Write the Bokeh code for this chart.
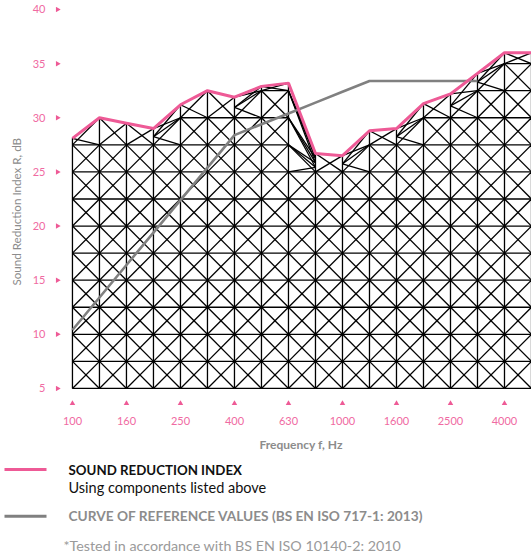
import math
import numpy as np
from bokeh.plotting import figure
from bokeh.models import Range1d, FixedTicker, Title
from bokeh.core.properties import value
from bokeh.embed import file_html
from bokeh.resources import INLINE

# ---------------- data ----------------
bands = ["100", "125", "160", "200", "250", "315", "400", "500", "630", "800",
         "1000", "1250", "1600", "2000", "2500", "3150", "4000", "5000"]
sound_reduction = [28.1, 30.0, 29.5, 29.0, 31.2, 32.5, 31.9, 32.9, 33.2, 26.7,
                   26.5, 28.8, 29.0, 31.3, 32.2, 34.1, 36.0, 36.0]
reference_bands = ["100", "125", "160", "200", "250", "315", "400", "500", "630", "800",
                   "1000", "1250", "1600", "2000", "2500", "3150"]
reference_curve = [10.4, 13.4, 16.4, 19.4, 22.4, 25.4, 28.4, 29.4, 30.4, 31.4,
                   32.4, 33.4, 33.4, 33.4, 33.4, 33.4]
y_ticks = [5, 10, 15, 20, 25, 30, 35, 40]
x_tick_labels = ["100", "160", "250", "400", "630", "1000", "1600", "2500", "4000"]
mesh_floor = 5.0
mesh_step = 2.5

# ---------------- style ----------------
FONT = "Lato"
PINK = "#EE5A96"
PINK_TXT = "#F06AA2"
GREY = "#808080"
TITLE_GREY = "#8C8C8C"

bx = list(range(len(bands)))
rx = [bands.index(b) for b in reference_bands]

# ---------------- mesh (derived from the data) ----------------
mx, my = [], []


def seg(x0, y0, x1, y1):
    mx.append([x0, x1])
    my.append([y0, y1])


n = len(bands)
for b in range(n):
    seg(b, mesh_floor, b, sound_reduction[b])
for i in range(n - 1):
    L, R = sound_reduction[i], sound_reduction[i + 1]
    g = mesh_floor + math.floor((min(L, R) - mesh_floor) / mesh_step) * mesh_step
    y = mesh_floor
    while y < g - 1e-9:
        seg(i, y, i + 1, y)
        seg(i, y, i + 1, y + mesh_step)
        seg(i, y + mesh_step, i + 1, y)
        y += mesh_step

    def levels(top):
        lv = [g]
        while lv[-1] + mesh_step < top - 0.05:
            lv.append(lv[-1] + mesh_step)
        lv.append(top)
        return lv

    lvL, lvR = levels(L), levels(R)
    k = max(len(lvL), len(lvR)) - 1
    if len(lvL) - 1 < k:
        lvL = list(np.linspace(g, L, k + 1))
    if len(lvR) - 1 < k:
        lvR = list(np.linspace(g, R, k + 1))
    for j in range(k):
        seg(i, lvL[j], i + 1, lvR[j])
        seg(i, lvL[j], i + 1, lvR[j + 1])
        seg(i, lvL[j + 1], i + 1, lvR[j])
    seg(i, L, i + 1, R)

# ---------------- main figure ----------------
p = figure(width=531, height=461,
           x_range=Range1d(-0.702, 17), y_range=Range1d(3.15, 40.83),
           output_backend="svg", toolbar_location=None,
           min_border_left=52, min_border_right=0, min_border_top=0, min_border_bottom=53)
p.outline_line_color = None
p.grid.visible = False
p.background_fill_color = "white"
p.border_fill_color = "white"

p.multi_line(xs=mx, ys=my, line_color="black", line_width=1.3)
p.line(rx, reference_curve, line_color=GREY, line_width=2.6)
p.line(bx, sound_reduction, line_color=PINK, line_width=3)

# tick markers
xt = [bands.index(l) for l in x_tick_labels]
p.scatter(xt, [3.61] * len(xt), marker="triangle", size=5.5, color=PINK, line_width=0)
p.scatter([-0.554] * len(y_ticks), y_ticks, marker="triangle", size=5.5, color=PINK,
          angle=-math.pi / 2, line_width=0)

p.yaxis.ticker = FixedTicker(ticks=y_ticks)
p.xaxis.ticker = FixedTicker(ticks=xt)
p.xaxis.major_label_overrides = {i: l for i, l in zip(xt, x_tick_labels)}
for ax in (p.xaxis, p.yaxis):
    ax.axis_line_color = None
    ax.major_tick_line_color = None
    ax.minor_tick_line_color = None
    ax.major_tick_out = 0
    ax.major_tick_in = 0
    ax.minor_tick_out = 0
    ax.minor_tick_in = 0
    ax.major_label_text_color = PINK_TXT
    ax.major_label_text_font = FONT
    ax.major_label_text_font_size = "11px"
p.yaxis.major_label_standoff = 8
p.xaxis.major_label_standoff = 8

p.add_layout(Title(text="Sound Reduction Index R, dB", align="left", offset=123, standoff=14,
                   text_font=FONT, text_font_size="11.6px", text_font_style="normal",
                   text_color=TITLE_GREY), "left")
p.add_layout(Title(text="Frequency f, Hz", align="left", offset=206, standoff=14,
                   text_font=FONT, text_font_size="12px", text_font_style="bold",
                   text_color=TITLE_GREY), "below")

# ---------------- legend figure ----------------
lg = figure(width=531, height=95, x_range=Range1d(0, 531), y_range=Range1d(95, 0),
            output_backend="svg", toolbar_location=None,
            x_axis_type=None, y_axis_type=None,
            min_border_left=0, min_border_right=0, min_border_top=0, min_border_bottom=0)
lg.outline_line_color = None
lg.grid.visible = False
lg.line([4, 46], [8, 8], line_color=PINK, line_width=3)
lg.line([4, 46], [54.7, 54.7], line_color=GREY, line_width=3)
lg.text([68], [8.5], text=["SOUND REDUCTION INDEX"], text_font=value(FONT),
        text_font_style="bold", text_font_size="13.3px", text_color="#111111",
        text_baseline="middle")
lg.text([68], [25.7], text=["Using components listed above"], text_font=value(FONT),
        text_font_size="14.5px", text_color="#111111", text_baseline="middle")
lg.text([68], [54], text=["CURVE OF REFERENCE VALUES (BS EN ISO 717-1: 2013)"],
        text_font=value(FONT), text_font_style="bold", text_font_size="13.7px",
        text_color=TITLE_GREY, text_baseline="middle")
lg.text([63], [84], text=["*Tested in accordance with BS EN ISO 10140-2: 2010"],
        text_font=value(FONT), text_font_size="14.3px", text_color="#9A9A9A",
        text_baseline="middle")

open("out.html", "w").write(file_html([p, lg], INLINE))
